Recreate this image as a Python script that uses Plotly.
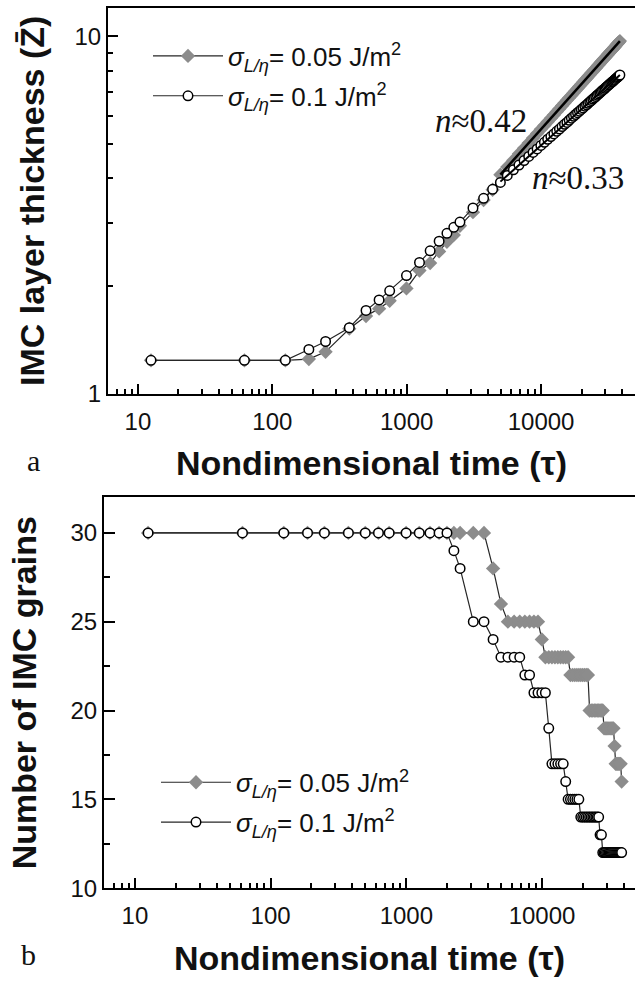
import plotly.graph_objects as go

# ---------------- data ----------------
times = [12.5, 62, 125, 187, 249, 374, 498, 623, 747, 996,
         1245, 1494, 1743, 1992, 2241, 2490, 3113, 3735, 4358, 4980,
         5603, 6225, 6848, 7470, 8093, 8715, 9338, 9960, 10583, 11205,
         11828, 12450, 13073, 13695, 14318, 14940, 15563, 16185, 16808, 17430,
         18053, 18675, 19298, 19920, 20543, 21165, 21788, 22410, 23033, 23655,
         24278, 24900, 25523, 26145, 26768, 27390, 28013, 28635, 29258, 29880,
         30503, 31125, 31748, 32370, 32993, 33615, 34238, 34860, 35483, 36105,
         36728, 37350, 37973, 38595]

# IMC layer thickness, sigma = 0.05 J/m^2 (grey diamonds)
thick_005 = [1.24, 1.24, 1.24, 1.25, 1.31, 1.52, 1.65, 1.73, 1.82, 1.97,
             2.21, 2.32, 2.50, 2.66, 2.78, 2.95, 3.22, 3.48, 3.72, 4.10,
             4.31, 4.50, 4.69, 4.86, 5.03, 5.19, 5.34, 5.49, 5.63, 5.76,
             5.90, 6.02, 6.15, 6.27, 6.39, 6.50, 6.62, 6.73, 6.83, 6.94,
             7.04, 7.14, 7.24, 7.34, 7.43, 7.53, 7.62, 7.71, 7.80, 7.89,
             7.97, 8.06, 8.14, 8.23, 8.31, 8.39, 8.47, 8.55, 8.63, 8.70,
             8.78, 8.85, 8.93, 9.00, 9.07, 9.14, 9.21, 9.28, 9.35, 9.42,
             9.49, 9.56, 9.62, 9.69]

# IMC layer thickness, sigma = 0.1 J/m^2 (open circles)
thick_01 = [1.24, 1.24, 1.24, 1.33, 1.40, 1.53, 1.71, 1.83, 1.94, 2.14,
            2.33, 2.51, 2.67, 2.81, 2.92, 3.02, 3.31, 3.52, 3.73, 3.90,
            4.08, 4.23, 4.36, 4.49, 4.61, 4.73, 4.84, 4.95, 5.05, 5.15,
            5.24, 5.33, 5.42, 5.50, 5.59, 5.67, 5.74, 5.82, 5.90, 5.97,
            6.04, 6.11, 6.17, 6.24, 6.30, 6.37, 6.43, 6.49, 6.55, 6.61,
            6.67, 6.72, 6.78, 6.84, 6.89, 6.94, 7.00, 7.05, 7.10, 7.15,
            7.20, 7.25, 7.30, 7.34, 7.39, 7.44, 7.48, 7.53, 7.57, 7.62,
            7.66, 7.70, 7.75, 7.79]

# Number of IMC grains, sigma = 0.05 J/m^2
grains_005 = [30, 30, 30, 30, 30, 30, 30, 30, 30, 30,
              30, 30, 30, 30, 30, 30, 30, 30, 28, 26,
              25, 25, 25, 25, 25, 25, 25, 24, 23, 23,
              23, 23, 23, 23, 23, 23, 23, 22, 22, 22,
              22, 22, 22, 22, 22, 22, 22, 20, 20, 20,
              20, 20, 20, 20, 20, 20, 20, 19, 19, 19,
              19, 19, 19, 19, 19, 19, 18, 17, 17, 17,
              17, 17, 17, 16]

# Number of IMC grains, sigma = 0.1 J/m^2
grains_01 = [30, 30, 30, 30, 30, 30, 30, 30, 30, 30,
             30, 30, 30, 30, 29, 28, 25, 25, 24, 23,
             23, 23, 23, 22, 22, 21, 21, 21, 21, 19,
             17, 17, 17, 17, 17, 16, 15, 15, 15, 15,
             15, 15, 14, 14, 14, 14, 14, 14, 14, 14,
             14, 14, 14, 14, 13, 13, 12, 12, 12, 12,
             12, 12, 12, 12, 12, 12, 12, 12, 12, 12,
             12, 12, 12, 12]

# power-law fit segments (end points)
fit_times = [4980, 38595]
fit_005 = [4.10, 9.69]
fit_01 = [3.92, 7.79]

x_tickvals = [10, 100, 1000, 10000]
x_ticktext = ["10", "100", "1000", "10000"]
thick_tickvals = [1, 10]
thick_ticktext = ["1", "10"]
grain_tickvals = [10, 15, 20, 25, 30]

name_005 = "<i>σ</i><sub><i>L/η</i></sub>= 0.05 J/m<sup>2</sup>"
name_01 = "<i>σ</i><sub><i>L/η</i></sub>= 0.1 J/m<sup>2</sup>"

# ---------------- styling ----------------
W, H = 635, 987
SANS = "Liberation Sans, Arial, Helvetica, sans-serif"
SERIF = "Liberation Serif, Times New Roman, serif"
GREY = "#8c8c8c"
LINE = "#262626"


def fx(p):
    return p / W


def fy(p):
    return 1 - p / H


fig = go.Figure()

diamond = dict(symbol="diamond", size=11, color=GREY, line=dict(width=0))
circle = dict(symbol="circle", size=9.5, color="white",
              line=dict(color="black", width=1.5))
conn = dict(color=LINE, width=1.2)

# panel a
fig.add_trace(go.Scatter(x=times, y=thick_005, mode="lines+markers", name=name_005,
                         line=conn, marker=diamond, xaxis="x", yaxis="y",
                         legend="legend", legendgroup="a1"))
fig.add_trace(go.Scatter(x=times, y=thick_01, mode="lines+markers", name=name_01,
                         line=conn, marker=circle, xaxis="x", yaxis="y",
                         legend="legend", legendgroup="a2"))
fig.add_trace(go.Scatter(x=fit_times, y=fit_005, mode="lines", showlegend=False,
                         line=dict(color="black", width=2.5), xaxis="x", yaxis="y"))
fig.add_trace(go.Scatter(x=fit_times, y=fit_01, mode="lines", showlegend=False,
                         line=dict(color="black", width=2), xaxis="x", yaxis="y"))

# panel b
fig.add_trace(go.Scatter(x=times, y=grains_005, mode="lines+markers", name=name_005,
                         line=conn, marker=diamond, xaxis="x2", yaxis="y2",
                         legend="legend2", legendgroup="b1"))
fig.add_trace(go.Scatter(x=times, y=grains_01, mode="lines+markers", name=name_01,
                         line=conn, marker=circle, xaxis="x2", yaxis="y2",
                         legend="legend2", legendgroup="b2"))

tickfont = dict(family=SANS, size=24, color="#111111")
titlefont = dict(family=SANS, size=34, color="#111111")
minor_log = dict(ticks="inside", ticklen=5, tickwidth=1.5, tickcolor="black",
                 dtick="D1", showgrid=False)

common_x = dict(type="log", showline=True, linewidth=2, linecolor="black",
                mirror=True, ticks="inside", ticklen=10, tickwidth=1.5,
                tickcolor="black", tickvals=x_tickvals, ticktext=x_ticktext,
                tickfont=tickfont, showgrid=False, zeroline=False,
                minor=minor_log, ticklabelstandoff=5)

legend_common = dict(xanchor="left", yanchor="top", bgcolor="rgba(0,0,0,0)",
                     font=dict(family=SANS, size=26, color="#111"),
                     itemwidth=70, tracegroupgap=3)

fig.update_layout(
    width=W, height=H,
    margin=dict(l=0, r=0, t=0, b=0),
    paper_bgcolor="white", plot_bgcolor="white",
    xaxis=dict(common_x, domain=[fx(108), 1], anchor="y",
               range=[0.777, 4.699],
               title=dict(text="<b>Nondimensional time (τ)</b>", font=titlefont,
                          standoff=18)),
    yaxis=dict(type="log", domain=[fy(399), fy(8)], anchor="x",
               range=[0, 1.0792], showline=True, linewidth=2, linecolor="black",
               mirror=False, ticks="inside", ticklen=10, tickwidth=1.5,
               tickcolor="black", tickvals=thick_tickvals, ticktext=thick_ticktext,
               tickfont=tickfont, showgrid=False, zeroline=False, minor=minor_log,
               title=dict(text="<b>IMC layer thickness (Z̄)</b>", font=titlefont,
                          standoff=20)),
    xaxis2=dict(common_x, domain=[fx(104), 1], anchor="y2",
                range=[0.772, 4.685],
                title=dict(text="<b>Nondimensional time (τ)</b>", font=titlefont,
                           standoff=18)),
    yaxis2=dict(domain=[fy(900), fy(504)], anchor="x2", range=[10, 32],
                showline=True, linewidth=2, linecolor="black", mirror=False,
                ticks="inside", ticklen=11, tickwidth=1.5, tickcolor="black",
                tickvals=grain_tickvals, tickfont=tickfont, showgrid=False,
                zeroline=False,
                minor=dict(ticks="inside", ticklen=6, tickwidth=1.5,
                           tickcolor="black", dtick=2.5, showgrid=False),
                title=dict(text="<b>Number of IMC grains</b>", font=titlefont,
                           standoff=24)),
    legend=dict(legend_common, x=fx(148), y=fy(33)),
    legend2=dict(legend_common, x=fx(156), y=fy(769)),
    annotations=[
        dict(text="<i>n</i>≈0.42", x=fx(433), y=fy(123), xref="paper", yref="paper",
             xanchor="left", yanchor="middle", showarrow=False,
             font=dict(family=SERIF, size=33, color="#111")),
        dict(text="<i>n</i>≈0.33", x=fx(530), y=fy(180), xref="paper", yref="paper",
             xanchor="left", yanchor="middle", showarrow=False,
             font=dict(family=SERIF, size=33, color="#111")),
        dict(text="a", x=fx(33), y=fy(467), xref="paper", yref="paper",
             xanchor="center", yanchor="middle", showarrow=False,
             font=dict(family=SERIF, size=30, color="#111")),
        dict(text="b", x=fx(28), y=fy(967), xref="paper", yref="paper",
             xanchor="center", yanchor="middle", showarrow=False,
             font=dict(family=SERIF, size=30, color="#111")),
    ],
)

fig.write_html("out.html",
               config={"displayModeBar": False},
               post_script="document.body.style.margin='0px';"
                           "document.body.style.overflow='hidden';")
